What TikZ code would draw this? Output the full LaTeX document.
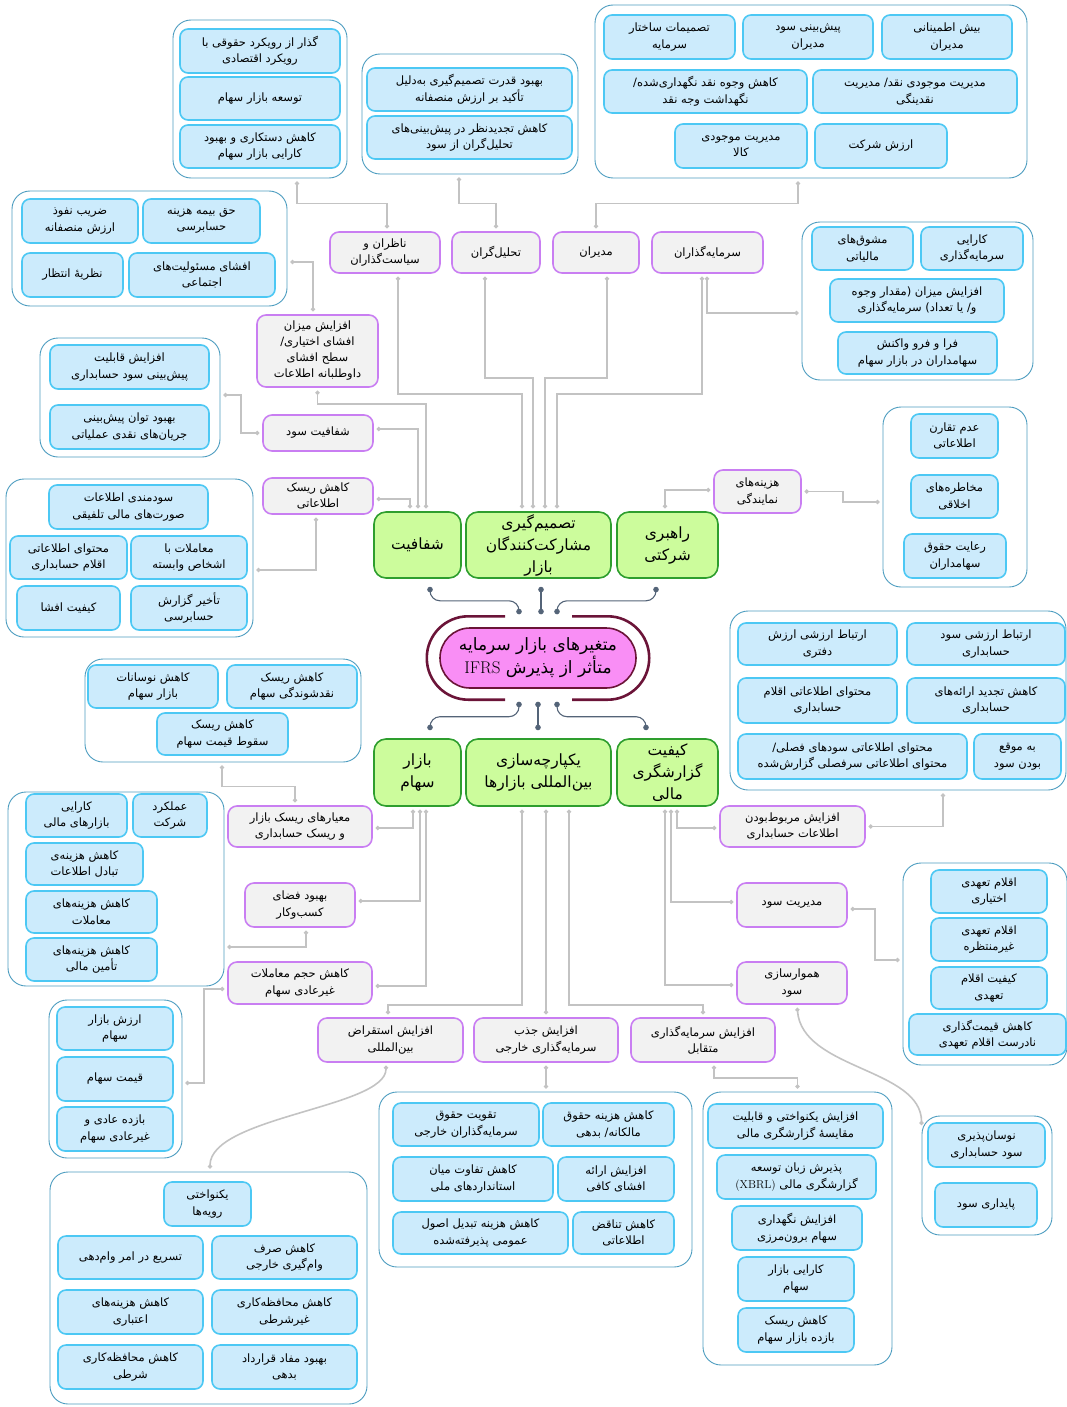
\documentclass[tikz,border=0pt]{standalone}
\usepackage{fontspec}
\usepackage{tikz}
\usetikzlibrary{arrows.meta}
\newfontfamily\fafont[Script=Arabic]{DejaVu Sans}
\TeXXeTstate=1
\newcommand{\rl}[1]{\beginR #1\endR}
\newcommand{\lt}[1]{\beginL{\rmfamily #1}\endL}
\definecolor{grpline}{HTML}{4D9DC0}
\definecolor{leafline}{HTML}{4CC8F4}
\definecolor{leaffill}{HTML}{CCEBFC}
\definecolor{midline}{HTML}{C97EF2}
\definecolor{midfill}{HTML}{F2F2F2}
\definecolor{catline}{HTML}{2E9E2E}
\definecolor{catfill}{HTML}{CCFC9C}
\definecolor{rootline}{HTML}{6B1438}
\definecolor{rootfill}{HTML}{F98EF5}
\definecolor{linkgray}{HTML}{C3C3C3}
\definecolor{rootblue}{HTML}{546478}
\tikzset{
	grp/.style={draw=grpline, fill=white, line width=0.9pt, rounded corners=18pt, inner sep=0pt},
	leafbox/.style={draw=leafline, fill=leaffill, line width=1.6pt, rounded corners=8pt, align=center, inner sep=1pt, font=\fafont\fontsize{11.5}{16.5}\selectfont},
	midbox/.style={draw=midline, fill=midfill, line width=1.6pt, rounded corners=9pt, align=center, inner sep=1pt, font=\fafont\fontsize{11.5}{16.5}\selectfont},
	catbox/.style={draw=catline, fill=catfill, line width=1.6pt, rounded corners=12pt, align=center, inner sep=1pt, font=\fafont\fontsize{15.5}{22}\selectfont},
	conn/.style={draw=linkgray, line width=1.6pt, shorten <=3pt, shorten >=3pt, {Circle[length=4pt]}-{Circle[length=4pt]}},
	rootlink/.style={draw=rootblue, line width=1.1pt, rounded corners=10pt, {Circle[length=5.5pt]}-{Circle[length=5.5pt]}},
}

\begin{document}
\begin{tikzpicture}[x=1pt,y=-1pt]
				\useasboundingbox (0,0) rectangle (1067,1407);
				% groups
				\node[grp, minimum width=174, minimum height=158] (gA) at (260,99) {};
				\node[grp, minimum width=216, minimum height=120] (gB) at (470,114) {};
				\node[grp, minimum width=432, minimum height=173] (gC) at (811,91.5) {};
				\node[grp, minimum width=231, minimum height=158] (gD) at (917.5,301) {};
				\node[grp, minimum width=275, minimum height=115] (gE) at (149.5,248.5) {};
				\node[grp, minimum width=180, minimum height=119] (gG) at (130,397.5) {};
				\node[grp, minimum width=247, minimum height=158] (gJ) at (129.5,558) {};
				\node[grp, minimum width=144, minimum height=180] (gL) at (955,497) {};
				\node[grp, minimum width=276, minimum height=103] (gN) at (223,710.5) {};
				\node[grp, minimum width=336, minimum height=179] (gX) at (898,700.5) {};
				\node[grp, minimum width=216, minimum height=194] (gR) at (116,889) {};
				\node[grp, minimum width=133, minimum height=158] (gS) at (115.5,1079) {};
				\node[grp, minimum width=164, minimum height=202] (gY) at (985,964) {};
				\node[grp, minimum width=317, minimum height=232] (gZ) at (208.5,1288) {};
				\node[grp, minimum width=313, minimum height=175] (gAA) at (535.5,1179.5) {};
				\node[grp, minimum width=189, minimum height=273] (gBB) at (797.5,1228.5) {};
				\node[grp, minimum width=130, minimum height=119] (gCC) at (987,1175.5) {};
				% leaves
				\node[leafbox, minimum width=160, minimum height=44] (A1) at (260,51) {\rl{گذار از رویکرد حقوقی با}\\\rl{رویکرد اقتصادی}};
				\node[leafbox, minimum width=160, minimum height=43] (A2) at (260,98.5) {\rl{توسعه بازار سهام}};
				\node[leafbox, minimum width=160, minimum height=43] (A3) at (260,146.5) {\rl{کاهش دستکاری و بهبود}\\\rl{کارایی بازار سهام}};
				\node[leafbox, minimum width=205, minimum height=43] (B1) at (469.5,89.5) {\rl{بهبود قدرت تصمیم‌گیری به‌دلیل}\\\rl{تأکید بر ارزش منصفانه}};
				\node[leafbox, minimum width=205, minimum height=43] (B2) at (469.5,137.5) {\rl{کاهش تجدیدنظر در پیش‌بینی‌های}\\\rl{تحلیل‌گران از سود}};
				\node[leafbox, minimum width=131, minimum height=44] (C1) at (669.5,37) {\rl{تصمیمات ساختار}\\\rl{سرمایه}};
				\node[leafbox, minimum width=130, minimum height=44] (C2) at (808,37) {\rl{پیش‌بینی سود}\\\rl{مدیران}};
				\node[leafbox, minimum width=130, minimum height=44] (C3) at (947,37) {\rl{بیش اطمینانی}\\\rl{مدیران}};
				\node[leafbox, minimum width=203, minimum height=43] (C4) at (705.5,91.5) {\rl{کاهش وجوه نقد نگهداری‌شده/}\\\rl{نگهداشت وجه نقد}};
				\node[leafbox, minimum width=204, minimum height=43] (C5) at (915,91.5) {\rl{مدیریت موجودی نقد/ مدیریت}\\\rl{نقدینگی}};
				\node[leafbox, minimum width=132, minimum height=44] (C6) at (741,146) {\rl{مدیریت موجودی}\\\rl{کالا}};
				\node[leafbox, minimum width=132, minimum height=44] (C7) at (881,146) {\rl{ارزش شرکت}};
				\node[leafbox, minimum width=101, minimum height=43] (D1) at (862.5,248.5) {\rl{مشوق‌های}\\\rl{مالیاتی}};
				\node[leafbox, minimum width=102, minimum height=43] (D2) at (972,248.5) {\rl{کارایی}\\\rl{سرمایه‌گذاری}};
				\node[leafbox, minimum width=174, minimum height=43] (D3) at (917,300.5) {\rl{افزایش میزان (مقدار وجوه}\\\rl{و/ یا تعداد) سرمایه‌گذاری}};
				\node[leafbox, minimum width=159, minimum height=42] (D4) at (917.5,353) {\rl{فرا و فرو واکنش}\\\rl{سهامداران در بازار سهام}};
				\node[leafbox, minimum width=116, minimum height=44] (E1) at (80,221) {\rl{ضریب نفوذ}\\\rl{ارزش منصفانه}};
				\node[leafbox, minimum width=117, minimum height=44] (E2) at (201.5,221) {\rl{حق بیمه هزینه}\\\rl{حسابرسی}};
				\node[leafbox, minimum width=101, minimum height=44] (E3) at (72.5,275) {\rl{نظریهٔ انتظار}};
				\node[leafbox, minimum width=146, minimum height=44] (E4) at (202,275) {\rl{افشای مسئولیت‌های}\\\rl{اجتماعی}};
				\node[leafbox, minimum width=159, minimum height=44] (G1) at (129.5,367) {\rl{افزایش قابلیت}\\\rl{پیش‌بینی سود حسابداری}};
				\node[leafbox, minimum width=159, minimum height=44] (G2) at (129.5,427) {\rl{بهبود توان پیش‌بینی}\\\rl{جریان‌های نقدی عملیاتی}};
				\node[leafbox, minimum width=159, minimum height=44] (J1) at (128.5,507) {\rl{سودمندی اطلاعات}\\\rl{صورت‌های مالی تلفیقی}};
				\node[leafbox, minimum width=117, minimum height=43] (J2) at (68.5,557.5) {\rl{محتوای اطلاعاتی}\\\rl{اقلام حسابداری}};
				\node[leafbox, minimum width=116, minimum height=43] (J3) at (189,557.5) {\rl{معاملات با}\\\rl{اشخاص وابسته}};
				\node[leafbox, minimum width=103, minimum height=44] (J4) at (68.5,608) {\rl{کیفیت افشا}};
				\node[leafbox, minimum width=116, minimum height=44] (J5) at (189,608) {\rl{تأخیر گزارش}\\\rl{حسابرسی}};
				\node[leafbox, minimum width=87, minimum height=44] (L1) at (954.5,436) {\rl{عدم تقارن}\\\rl{اطلاعاتی}};
				\node[leafbox, minimum width=87, minimum height=43] (L2) at (954.5,496.5) {\rl{مخاطره‌های}\\\rl{اخلاقی}};
				\node[leafbox, minimum width=102, minimum height=44] (L3) at (955,556) {\rl{رعایت حقوق}\\\rl{سهامداران}};
				\node[leafbox, minimum width=130, minimum height=43] (N1) at (153,686.5) {\rl{کاهش نوسانات}\\\rl{بازار سهام}};
				\node[leafbox, minimum width=130, minimum height=43] (N2) at (292,686.5) {\rl{کاهش ریسک}\\\rl{نقدشوندگی سهام}};
				\node[leafbox, minimum width=131, minimum height=42] (N3) at (222.5,734) {\rl{کاهش ریسک}\\\rl{سقوط قیمت سهام}};
				\node[leafbox, minimum width=159, minimum height=42] (X1) at (817.5,644) {\rl{ارتباط ارزشی ارزش}\\\rl{دفتری}};
				\node[leafbox, minimum width=158, minimum height=42] (X2) at (986,644) {\rl{ارتباط ارزشی سود}\\\rl{حسابداری}};
				\node[leafbox, minimum width=159, minimum height=45] (X3) at (817.5,700.5) {\rl{محتوای اطلاعاتی اقلام}\\\rl{حسابداری}};
				\node[leafbox, minimum width=158, minimum height=45] (X4) at (986,700.5) {\rl{کاهش تجدید ارائه‌های}\\\rl{حسابداری}};
				\node[leafbox, minimum width=229, minimum height=45] (X5) at (852.5,756.5) {\rl{محتوای اطلاعاتی سودهای فصلی/}\\\rl{محتوای اطلاعاتی سرفصلی گزارش‌شده}};
				\node[leafbox, minimum width=87, minimum height=45] (X6) at (1017.5,756.5) {\rl{به موقع}\\\rl{بودن سود}};
				\node[leafbox, minimum width=74, minimum height=43] (R1) at (170,815.5) {\rl{عملکرد}\\\rl{شرکت}};
				\node[leafbox, minimum width=101, minimum height=43] (R2) at (76.5,815.5) {\rl{کارایی}\\\rl{بازارهای مالی}};
				\node[leafbox, minimum width=117, minimum height=42] (R3) at (84.5,864) {\rl{کاهش هزینه‌ی}\\\rl{تبادل اطلاعات}};
				\node[leafbox, minimum width=131, minimum height=42] (R4) at (91.5,912) {\rl{کاهش هزینه‌های}\\\rl{معاملات}};
				\node[leafbox, minimum width=131, minimum height=43] (R5) at (91.5,959.5) {\rl{کاهش هزینه‌های}\\\rl{تأمین مالی}};
				\node[leafbox, minimum width=116, minimum height=43] (s1) at (115,1028.5) {\rl{ارزش بازار}\\\rl{سهام}};
				\node[leafbox, minimum width=116, minimum height=44] (s2) at (115,1079) {\rl{قیمت سهام}};
				\node[leafbox, minimum width=116, minimum height=44] (s3) at (115,1129) {\rl{بازده عادی و}\\\rl{غیرعادی سهام}};
				\node[leafbox, minimum width=116, minimum height=43] (Y1) at (989,891.5) {\rl{اقلام تعهدی}\\\rl{اختیاری}};
				\node[leafbox, minimum width=116, minimum height=43] (Y2) at (989,939.5) {\rl{اقلام تعهدی}\\\rl{غیرمنتظره}};
				\node[leafbox, minimum width=116, minimum height=42] (Y3) at (989,988) {\rl{کیفیت اقلام}\\\rl{تعهدی}};
				\node[leafbox, minimum width=157, minimum height=41] (Y4) at (987.5,1034.5) {\rl{کاهش قیمت‌گذاری}\\\rl{نادرست اقلام تعهدی}};
				\node[leafbox, minimum width=87, minimum height=44] (Z1) at (207.5,1204) {\rl{یکنواختی}\\\rl{رویه‌ها}};
				\node[leafbox, minimum width=145, minimum height=43] (Z2) at (130.5,1257.5) {\rl{تسریع در امر وام‌دهی}};
				\node[leafbox, minimum width=145, minimum height=43] (Z3) at (284.5,1257.5) {\rl{کاهش صرف}\\\rl{وام‌گیری خارجی}};
				\node[leafbox, minimum width=145, minimum height=44] (Z4) at (130.5,1312) {\rl{کاهش هزینه‌های}\\\rl{اعتباری}};
				\node[leafbox, minimum width=145, minimum height=44] (Z5) at (284.5,1312) {\rl{کاهش محافظه‌کاری}\\\rl{غیرشرطی}};
				\node[leafbox, minimum width=145, minimum height=44] (Z6) at (130.5,1367) {\rl{کاهش محافظه‌کاری}\\\rl{شرطی}};
				\node[leafbox, minimum width=145, minimum height=44] (Z7) at (284.5,1367) {\rl{بهبود مفاد قرارداد}\\\rl{بدهی}};
				\node[leafbox, minimum width=146, minimum height=43] (AA1) at (466,1124.5) {\rl{تقویت حقوق}\\\rl{سرمایه‌گذاران خارجی}};
				\node[leafbox, minimum width=131, minimum height=43] (AA2) at (608.5,1124.5) {\rl{کاهش هزینه حقوق}\\\rl{مالکانه/ بدهی}};
				\node[leafbox, minimum width=160, minimum height=44] (AA3) at (473,1179) {\rl{کاهش تفاوت میان}\\\rl{استانداردهای ملی}};
				\node[leafbox, minimum width=116, minimum height=44] (AA4) at (616,1179) {\rl{افزایش ارائه}\\\rl{افشای کافی}};
				\node[leafbox, minimum width=175, minimum height=42] (AA5) at (480.5,1233) {\rl{کاهش هزینه تبدیل اصول}\\\rl{عمومی پذیرفته‌شده}};
				\node[leafbox, minimum width=101, minimum height=42] (AA6) at (623.5,1233) {\rl{کاهش تناقض}\\\rl{اطلاعاتی}};
				\node[leafbox, minimum width=175, minimum height=44] (BB1) at (795.5,1126) {\rl{افزایش یکنواختی و قابلیت}\\\rl{مقایسهٔ گزارشگری مالی}};
				\node[leafbox, minimum width=159, minimum height=44] (BB2) at (796.5,1177) {\rl{پذیرش زبان توسعه}\\\rl{گزارشگری مالی \lt{(XBRL)}}};
				\node[leafbox, minimum width=130, minimum height=44] (BB3) at (797,1228) {\rl{افزایش نگهداری}\\\rl{سهام برون‌مرزی}};
				\node[leafbox, minimum width=116, minimum height=44] (BB4) at (796,1279) {\rl{کارایی بازار}\\\rl{سهام}};
				\node[leafbox, minimum width=116, minimum height=44] (BB5) at (796,1330) {\rl{کاهش ریسک}\\\rl{بازده بازار سهام}};
				\node[leafbox, minimum width=117, minimum height=44] (CC1) at (986.5,1145) {\rl{نوسان‌پذیری}\\\rl{سود حسابداری}};
				\node[leafbox, minimum width=102, minimum height=44] (CC2) at (986,1205) {\rl{پایداری سود}};
				% middle nodes
				\node[midbox, minimum width=110, minimum height=41] (S1) at (385,252.5) {\rl{ناظران و}\\\rl{سیاست‌گذاران}};
				\node[midbox, minimum width=88, minimum height=41] (S2) at (496,252.5) {\rl{تحلیل‌گران}};
				\node[midbox, minimum width=86, minimum height=41] (S3) at (596,252.5) {\rl{مدیران}};
				\node[midbox, minimum width=111, minimum height=41] (S4) at (707.5,252.5) {\rl{سرمایه‌گذاران}};
				\node[midbox, minimum width=121, minimum height=72, font=\fafont\fontsize{11.5}{16}\selectfont] (F) at (317.5,351) {\rl{افزایش میزان}\\\rl{افشای اختیاری/}\\\rl{سطح افشای}\\\rl{داوطلبانه اطلاعات}};
				\node[midbox, minimum width=110, minimum height=36] (H) at (318,433) {\rl{شفافیت سود}};
				\node[midbox, minimum width=110, minimum height=36] (I) at (318,496) {\rl{کاهش ریسک}\\\rl{اطلاعاتی}};
				\node[midbox, minimum width=87, minimum height=43] (AG) at (757.5,491.5) {\rl{هزینه‌های}\\\rl{نمایندگی}};
				\node[midbox, minimum width=144, minimum height=41] (O) at (300,826.5) {\rl{معیارهای ریسک بازار}\\\rl{و ریسک حسابداری}};
				\node[midbox, minimum width=110, minimum height=44] (P) at (300,905) {\rl{بهبود فضای}\\\rl{کسب‌وکار}};
				\node[midbox, minimum width=144, minimum height=42] (Q) at (300,983) {\rl{کاهش حجم معاملات}\\\rl{غیرعادی سهام}};
				\node[midbox, minimum width=145, minimum height=41] (U) at (792.5,826.5) {\rl{افزایش مربوط‌بودن}\\\rl{اطلاعات حسابداری}};
				\node[midbox, minimum width=110, minimum height=44] (V) at (792,905) {\rl{مدیریت سود}};
				\node[midbox, minimum width=110, minimum height=42] (W) at (792,983) {\rl{هموارسازی}\\\rl{سود}};
				\node[midbox, minimum width=145, minimum height=44] (T1) at (390.5,1040) {\rl{افزایش استقراض}\\\rl{بین‌المللی}};
				\node[midbox, minimum width=144, minimum height=44] (T2) at (546,1040) {\rl{افزایش جذب}\\\rl{سرمایه‌گذاری خارجی}};
				\node[midbox, minimum width=144, minimum height=44] (T3) at (703,1040) {\rl{افزایش سرمایه‌گذاری}\\\rl{متقابل}};
				% categories
				\node[catbox, minimum width=87, minimum height=66] (K1) at (417.5,545) {\rl{شفافیت}};
				\node[catbox, minimum width=145, minimum height=66] (K2) at (538.5,545) {\rl{تصمیم‌گیری}\\\rl{مشارکت‌کنندگان}\\\rl{بازار}};
				\node[catbox, minimum width=101, minimum height=66] (K3) at (667.5,545) {\rl{راهبری}\\\rl{شرکتی}};
				\node[catbox, minimum width=87, minimum height=67] (M1) at (417.5,772.5) {\rl{بازار}\\\rl{سهام}};
				\node[catbox, minimum width=145, minimum height=67] (M2) at (538.5,772.5) {\rl{یکپارچه‌سازی}\\\rl{بین‌المللی بازارها}};
				\node[catbox, minimum width=101, minimum height=67] (M3) at (667.5,772.5) {\rl{کیفیت}\\\rl{گزارشگری}\\\rl{مالی}};
				% root
				\node[minimum width=222, minimum height=83, inner sep=0pt] (ring) at (538,658) {};
				\draw[rootline, line width=2.6pt, rounded corners=41.5pt] ([xshift=-33pt]ring.north) -- (ring.north west) -- (ring.south west) -- ([xshift=-33pt]ring.south);
				\draw[rootline, line width=2.6pt, rounded corners=41.5pt] ([xshift=34pt]ring.north) -- (ring.north east) -- (ring.south east) -- ([xshift=34pt]ring.south);
				\node[draw=rootline, fill=rootfill, line width=1.6pt, rounded corners=30pt, minimum width=196, minimum height=60, align=center, inner sep=1pt, font=\fafont\fontsize{17}{23}\selectfont] (root) at (538,658) {\rl{متغیرهای بازار سرمایه}\\\rl{متأثر از پذیرش \lt{IFRS}}};
				% root links
				\draw[rootlink, shorten <=8pt, shorten >=2pt] ([xshift=12.5pt]K1.south) -- ++(0,22) -| ([xshift=-19pt]ring.north);
				\draw[rootlink, shorten <=8pt, shorten >=2pt] ([xshift=2.5pt]K2.south) -- ([xshift=3pt]ring.north);
				\draw[rootlink, shorten <=8pt, shorten >=2pt] ([xshift=-11.5pt]K3.south) -- ++(0,22) -| ([xshift=19pt]ring.north);
				\draw[rootlink, shorten <=2pt, shorten >=8pt] ([xshift=-19pt]ring.south) -- ++(0,17) -| ([xshift=12.5pt]M1.north);
				\draw[rootlink, shorten <=2pt, shorten >=8pt] (ring.south) -- ([xshift=-0.5pt]M2.north);
				\draw[rootlink, shorten <=2pt, shorten >=8pt] ([xshift=19pt]ring.south) -- ++(0,17) -| ([xshift=-21.5pt]M3.north);
				% upper links
				\draw[conn] ([xshift=37pt]gA.south) -- ++(0,25) -| ([xshift=2pt]S1.north);
				\draw[conn] ([xshift=-11pt]gB.south) -- ++(0,29) -| (S2.north);
				\draw[conn] ([xshift=-13pt]gC.south) -- ++(0,25) -| (S3.north);
				\draw[conn] ([xshift=13pt]S1.south) -- ++(0,120) -| ([xshift=-16.5pt]K2.north);
				\draw[conn] ([xshift=-11pt]S2.south) -- ++(0,104) -| ([xshift=-5.5pt]K2.north);
				\draw[conn] ([xshift=11pt]S3.south) -- ++(0,104) -| ([xshift=6.5pt]K2.north);
				\draw[conn] ([xshift=-5.5pt]S4.south) -- ++(0,120) -| ([xshift=18.5pt]K2.north);
				\draw[conn] ([xshift=-0.5pt]S4.south) |- ([yshift=-12pt]gD.west);
				\draw[conn] ([xshift=-4.5pt]F.north) |- ([yshift=-13.5pt]gE.east);
				\draw[conn] (F.south) -- ++(0,16) -| ([xshift=8.5pt]K1.north);
				\draw[conn] (H.west) -- ++(-21,0) |- ([yshift=2.5pt]gG.east);
				\draw[conn] ([yshift=4pt]H.east) -| ([xshift=0.5pt]K1.north);
				\draw[conn] ([yshift=-3pt]I.east) -| ([xshift=-7.5pt]K1.north);
				\draw[conn] ([xshift=-2pt]I.south) |- ([yshift=-12pt]gJ.east);
				\draw[conn] ([xshift=-2.5pt]K3.north) |- ([yshift=1.5pt]AG.west);
				\draw[conn] (AG.east) -- ++(41,0) |- ([yshift=-5pt]gL.west);
				% lower links
				\draw[conn] ([xshift=-1pt]gN.south) -- ++(0,24) -| ([xshift=-5pt]O.north);
				\draw[conn] ([xshift=-4.5pt]M1.south) |- ([yshift=-1.5pt]O.east);
				\draw[conn] ([xshift=2.5pt]M1.south) |- ([yshift=4pt]P.east);
				\draw[conn] ([xshift=8.5pt]M1.south) |- ([yshift=-3pt]Q.east);
				\draw[conn] ([xshift=6pt]P.south) |- ([yshift=-58pt]gR.east);
				\draw[conn] ([yshift=-6pt]Q.west) -- ++(-23,0) |- ([yshift=-4pt]gS.east);
				\draw[conn] ([xshift=-16.5pt]M2.south) -- ++(0,198) -| ([xshift=-2.5pt]T1.north);
				\draw[conn] ([xshift=7.5pt]M2.south) -- (T2.north);
				\draw[conn] ([xshift=30.5pt]M2.south) -- ++(0,198) -| (T3.north);
				\draw[conn] ([xshift=9.5pt]M3.south) |- ([yshift=-1.5pt]U.west);
				\draw[conn] ([xshift=3.5pt]M3.south) |- ([yshift=3pt]V.west);
				\draw[conn] ([xshift=-2.5pt]M3.south) |- ([yshift=-2pt]W.west);
				\draw[conn] ([xshift=45pt]gX.south) |- (U.east);
				\draw[conn] ([yshift=-4pt]V.east) -- ++(27,0) |- ([yshift=4pt]gY.west);
				\draw[conn] ([xshift=-4.5pt]T1.south) .. controls +(0,45) and +(0,-55) .. ([xshift=1.5pt]gZ.north);
				\draw[conn] (T2.south) -- ([xshift=10.5pt]gAA.north);
				\draw[conn] ([xshift=11pt]T3.south) -- ++(0,15) -| (gBB.north);
				\draw[conn] ([xshift=5pt]W.south) .. controls +(5,65) and +(0,-60) .. ([yshift=47.5pt]gCC.west);
\end{tikzpicture}
\end{document}
